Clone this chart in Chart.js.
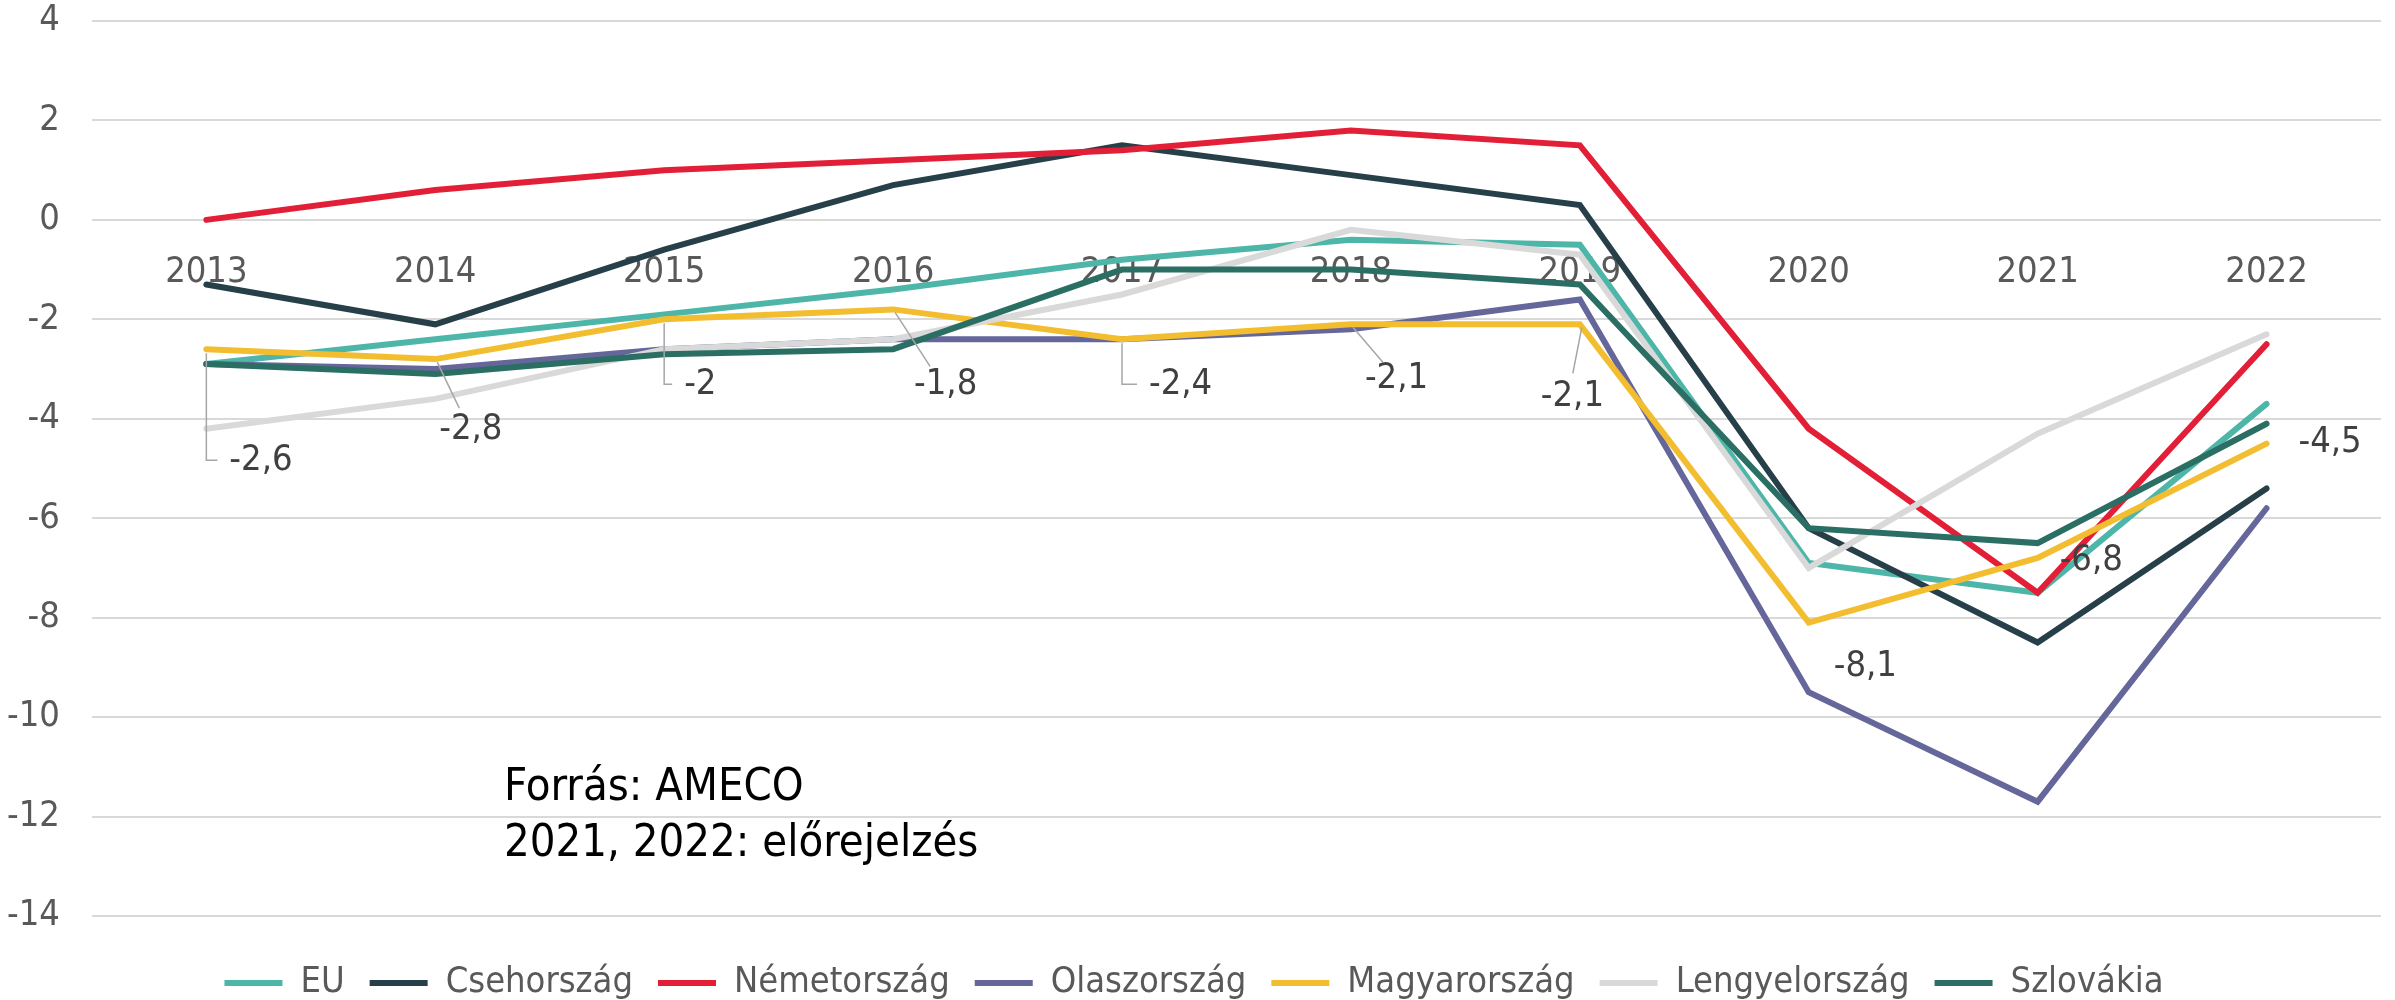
<!DOCTYPE html>
<html>
<head>
<meta charset="utf-8">
<script src="https://cdn.jsdelivr.net/npm/chart.js@4.4.1/dist/chart.umd.min.js"></script>
<style>
html,body{margin:0;padding:0;background:#fff;}
</style>
</head>
<body>
<canvas id="deficitChart" width="2395" height="1000"></canvas>
<script>
// adatok (AMECO, % GDP)
const years = ['2013','2014','2015','2016','2017','2018','2019','2020','2021','2022'];
const eu      = [-2.9,-2.4,-1.9,-1.4,-0.8,-0.4,-0.5,-6.9,-7.5,-3.7];
const cseh    = [-1.3,-2.1,-0.6, 0.7, 1.5, 0.9, 0.3,-6.2,-8.5,-5.4];
const nemet   = [ 0.0, 0.6, 1.0, 1.2, 1.4, 1.8, 1.5,-4.2,-7.5,-2.5];
const olasz   = [-2.9,-3.0,-2.6,-2.4,-2.4,-2.2,-1.6,-9.5,-11.7,-5.8];
const magyar  = [-2.6,-2.8,-2.0,-1.8,-2.4,-2.1,-2.1,-8.1,-6.8,-4.5];
const lengyel = [-4.2,-3.6,-2.6,-2.4,-1.5,-0.2,-0.7,-7.0,-4.3,-2.3];
const szlovak = [-2.9,-3.1,-2.7,-2.6,-1.0,-1.0,-1.3,-6.2,-6.5,-4.1];
const yMin = -14, yMax = 4, yStep = 2;

const FONT = "'Liberation Sans Narrow', 'DejaVu Sans Condensed', 'Arial Narrow', sans-serif";
const FS = 36;

// a magyar címkék eltolása a ponthoz képest: [dx, dy, vezetővonal, vx, vy]
const labelOffsets = [
  [23, 111, 'elbow'],
  [4, 71, 'diag', 24, 49],
  [20, 65, 'elbow'],
  [21, 75, 'diag', 37, 57],
  [27, 45, 'elbow'],
  [14, 54, 'diag', 32, 38],
  [-39, 72, 'diag', -7, 49],
  [25, 44, null],
  [22, 3, null],
  [32, -1, null]
];

const fmt = v => String(v).replace('.', ',');

const hunLabels = {
  id: 'hunLabels',
  afterDatasetsDraw(chart) {
    const meta = chart.getDatasetMeta(4);
    const ctx = chart.ctx;
    ctx.save();
    ctx.font = FS + 'px ' + FONT;
    ctx.textBaseline = 'middle';
    ctx.textAlign = 'left';
    ctx.fillStyle = '#404040';
    ctx.strokeStyle = '#A6A6A6';
    ctx.lineWidth = 1.5;
    meta.data.forEach((pt, i) => {
      const [dx, dy, kind, vx, vy] = labelOffsets[i];
      const tx = pt.x + dx, ty = pt.y + dy;
      if (kind === 'elbow') {
        ctx.beginPath();
        ctx.moveTo(pt.x, pt.y + 4);
        ctx.lineTo(pt.x, ty);
        ctx.lineTo(tx - 12, ty);
        ctx.stroke();
      } else if (kind === 'diag') {
        ctx.beginPath();
        ctx.moveTo(pt.x + 2, pt.y + 3);
        ctx.lineTo(pt.x + vx, pt.y + vy);
        ctx.stroke();
      }
      ctx.fillText(fmt(magyar[i]), tx, ty);
    });
    ctx.restore();
  }
};

const sourceNote = {
  id: 'sourceNote',
  afterDraw(chart) {
    const ctx = chart.ctx;
    ctx.save();
    ctx.font = '45px ' + FONT;
    ctx.fillStyle = '#000';
    ctx.textBaseline = 'middle';
    ctx.fillText('Forrás: AMECO', 504, 788);
    ctx.fillText('2021, 2022: előrejelzés', 504, 844);
    ctx.restore();
  }
};

function series(label, data, color, order) {
  return {
    label: label,
    data: data,
    borderColor: color,
    backgroundColor: color,
    borderWidth: 6,
    borderCapStyle: 'round',
    pointRadius: 0,
    tension: 0,
    order: order
  };
}

Chart.defaults.font.family = FONT;

new Chart(document.getElementById('deficitChart'), {
  type: 'line',
  data: {
    labels: years,
    datasets: [
      series('EU', eu, '#4DB6A8', 7),
      series('Csehország', cseh, '#263F49', 6),
      series('Németország', nemet, '#E21F37', 5),
      series('Olaszország', olasz, '#65669A', 4),
      series('Magyarország', magyar, '#F2BD2F', 3),
      series('Lengyelország', lengyel, '#D9D9D9', 2),
      series('Szlovákia', szlovak, '#2B6E63', 1)
    ]
  },
  options: {
    responsive: false,
    animation: false,
    devicePixelRatio: 1,
    layout: { padding: { left: 7, right: 14, top: 21, bottom: -11 } },
    plugins: {
      tooltip: { enabled: false },
      legend: {
        position: 'bottom',
        title: { display: true, text: '', font: { size: 1, lineHeight: 1 }, padding: { top: 23, bottom: 0 } },
        labels: {
          usePointStyle: true,
          pointStyle: 'line',
          pointStyleWidth: 58,
          padding: 25,
          color: '#595959',
          font: { size: FS },
          sort: (a, b) => a.datasetIndex - b.datasetIndex
        }
      }
    },
    scales: {
      x: {
        position: { y: 0 },
        offset: true,
        grid: { display: false, drawTicks: false, offset: true },
        border: { display: false },
        ticks: { color: '#595959', font: { size: FS }, padding: 31, maxRotation: 0 }
      },
      y: {
        min: yMin,
        max: yMax,
        grid: { color: '#D9D9D9', lineWidth: 2, drawTicks: true, tickLength: 32, tickColor: 'rgba(0,0,0,0)' },
        border: { display: false },
        ticks: { stepSize: yStep, color: '#595959', font: { size: FS, lineHeight: 1 }, padding: 0 }
      }
    }
  },
  plugins: [hunLabels, sourceNote]
});
</script>
</body>
</html>
